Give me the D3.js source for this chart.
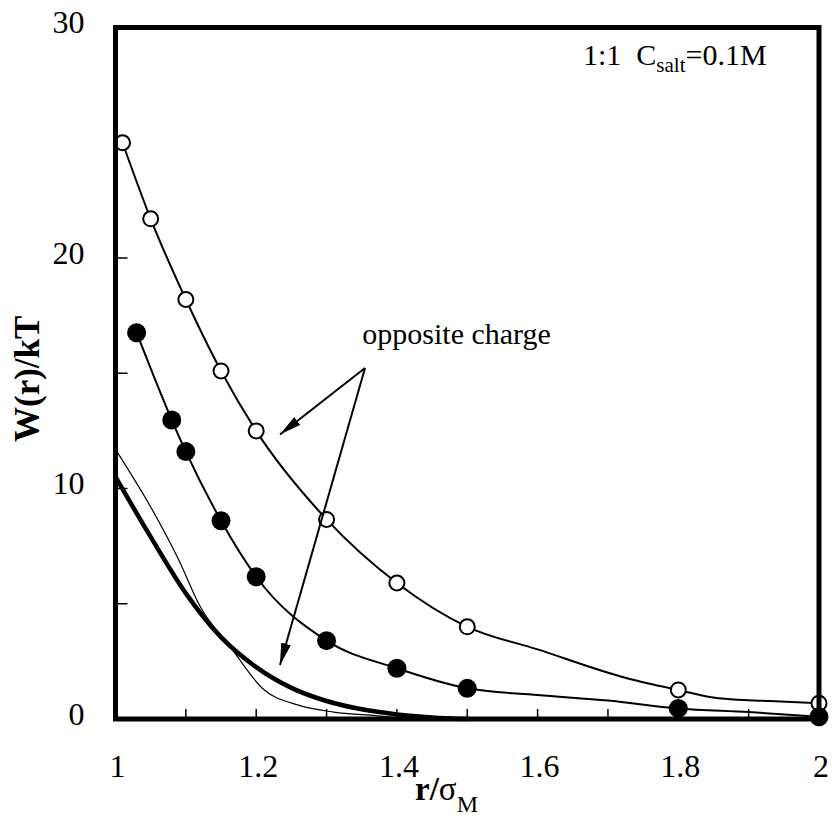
<html lang="en">
<head>
<title>W(r)/kT vs r/sigma</title>
<script src="https://d3js.org/d3.v7.min.js"></script>
<style>
  body { margin: 0; background: white; }
  text { font-family: "Liberation Serif", "Times New Roman", serif; fill: black; }
</style>
</head>
<body>
<script>

// open circles (upper series)
var openPts = [[1.01,25.0],[1.05,21.7],[1.1,18.2],[1.15,15.1],[1.2,12.5],[1.3,8.66],[1.4,5.9],[1.5,4.0],[1.8,1.26],[2.0,0.68]];
var openLine = [[1.01,25.0],[1.05,21.7],[1.1,18.2],[1.15,15.1],[1.2,12.5],[1.3,8.66],[1.4,5.9],[1.5,4.0],[1.6,3.02],[1.727,1.77],[1.8,1.26],[1.857,0.9],[1.93,0.78],[2.0,0.68]];

// filled circles
var fillPts = [[1.03,16.76],[1.08,12.97],[1.1,11.6],[1.15,8.6],[1.2,6.17],[1.3,3.4],[1.4,2.2],[1.5,1.33],[1.8,0.46],[2.0,0.1]];
var fillLine = [[1.03,16.76],[1.08,12.97],[1.1,11.6],[1.15,8.6],[1.2,6.17],[1.3,3.4],[1.4,2.2],[1.5,1.33],[1.6,1.04],[1.7,0.8],[1.8,0.46],[1.9,0.3],[2.0,0.1]];

// thick and thin curves without symbols
var thickLine = [[1.0,10.5],[1.05,7.9],[1.1,5.45],[1.15,3.55],[1.2,2.25],[1.25,1.35],[1.3,0.78],[1.35,0.42],[1.4,0.2],[1.45,0.07],[1.5,0.0]];
var thinLine = [[1.0,11.7],[1.05,9.2],[1.09,6.9],[1.12,4.9],[1.165,3.05],[1.21,1.3],[1.26,0.6],[1.31,0.3],[1.37,0.15],[1.42,0.03],[1.45,0.0]];

var xTicks = [1, 1.2, 1.4, 1.6, 1.8, 2];
var xMinor = [1.1, 1.2, 1.3, 1.4, 1.5, 1.6, 1.7, 1.8, 1.9];
var yTicks = [0, 10, 20, 30];
var yMinor = [5, 10, 15, 20, 25];

// arrows: [from, to] in data units
var arrows = [[[1.3547,15.23],[1.2338,12.34]], [[1.3547,15.23],[1.2338,2.34]]];

var w = 832, h = 819;
var margin = {top: 27.5, right: 13, bottom: 100, left: 115.5};
var innerW = w - margin.left - margin.right;
var innerH = h - margin.top - margin.bottom;

var x = d3.scaleLinear().domain([1, 2]).range([0, innerW]);
var y = d3.scaleLinear().domain([0, 30]).range([innerH, 0]);

var svg = d3.select("body").append("svg")
    .attr("width", w)
    .attr("height", h);

svg.append("defs").append("marker")
    .attr("id", "head")
    .attr("viewBox", "0 0 22 10")
    .attr("refX", 22)
    .attr("refY", 5)
    .attr("markerWidth", 22)
    .attr("markerHeight", 10)
    .attr("markerUnits", "userSpaceOnUse")
    .attr("orient", "auto")
  .append("path")
    .attr("d", "M0,0 L22,5 L0,10 Z")
    .attr("fill", "black");

var g = svg.append("g")
    .attr("transform", `translate(${margin.left},${margin.top})`);

// ticks inside the frame
g.selectAll(".xt").data(xMinor).enter().append("line")
    .attr("x1", d => x(d)).attr("x2", d => x(d))
    .attr("y1", innerH).attr("y2", innerH - 10)
    .attr("stroke", "black").attr("stroke-width", 1.5);

g.selectAll(".yt").data(yMinor).enter().append("line")
    .attr("x1", 0).attr("x2", 12)
    .attr("y1", d => y(d)).attr("y2", d => y(d))
    .attr("stroke", "black").attr("stroke-width", 1.5);

// tick labels
g.selectAll(".xl").data(xTicks).enter().append("text")
    .attr("x", d => x(d) + 2)
    .attr("y", innerH + 58)
    .attr("text-anchor", "middle")
    .attr("font-size", 32)
    .text(d => d);

g.selectAll(".yl").data(yTicks).enter().append("text")
    .attr("x", -31)
    .attr("y", d => y(d) + 5.5)
    .attr("text-anchor", "end")
    .attr("font-size", 32)
    .text(d => d);

var line = d3.line()
    .x(d => x(d[0]))
    .y(d => y(d[1]))
    .curve(d3.curveMonotoneX);

g.append("path").datum(thinLine)
    .attr("d", line).attr("fill", "none")
    .attr("stroke", "black").attr("stroke-width", 1.2);

g.append("path").datum(thickLine)
    .attr("d", line).attr("fill", "none")
    .attr("stroke", "black").attr("stroke-width", 4.5);

g.append("path").datum(openLine)
    .attr("d", line).attr("fill", "none")
    .attr("stroke", "black").attr("stroke-width", 2);

g.append("path").datum(fillLine)
    .attr("d", line).attr("fill", "none")
    .attr("stroke", "black").attr("stroke-width", 2);

g.selectAll(".op").data(openPts).enter().append("circle")
    .attr("cx", d => x(d[0])).attr("cy", d => y(d[1]))
    .attr("r", 7.5)
    .attr("fill", "white").attr("stroke", "black").attr("stroke-width", 2);

g.selectAll(".fp").data(fillPts).enter().append("circle")
    .attr("cx", d => x(d[0])).attr("cy", d => y(d[1]))
    .attr("r", 9.5)
    .attr("fill", "black");

// frame
g.append("rect")
    .attr("x", 0).attr("y", 0)
    .attr("width", innerW).attr("height", innerH)
    .attr("fill", "none").attr("stroke", "black").attr("stroke-width", 5);

// arrows
g.selectAll(".ar").data(arrows).enter().append("line")
    .attr("x1", d => x(d[0][0])).attr("y1", d => y(d[0][1]))
    .attr("x2", d => x(d[1][0])).attr("y2", d => y(d[1][1]))
    .attr("stroke", "black").attr("stroke-width", 2)
    .attr("marker-end", "url(#head)");

g.append("text")
    .attr("x", x(1.3508)).attr("y", y(16.27))
    .attr("font-size", 30)
    .text("opposite charge");

var note = g.append("text")
    .attr("x", x(1.6645)).attr("y", y(28.37))
    .attr("font-size", 30)
    .attr("xml:space", "preserve");
note.append("tspan").text("1:1  C");
note.append("tspan").attr("font-size", 21).attr("dy", 7).text("salt");
note.append("tspan").attr("dy", -7).text("=0.1M");

// axis titles
svg.append("text")
    .attr("transform", "translate(39,442) rotate(-90)")
    .attr("font-size", 35)
    .attr("font-weight", "bold")
    .text("W(r)/kT");

var xt = svg.append("text")
    .attr("x", 415).attr("y", 800)
    .attr("font-size", 33);
xt.append("tspan").attr("font-weight", "bold").text("r/");
xt.append("tspan").text("σ");
xt.append("tspan").attr("font-size", 24).attr("dy", 12).text("M");

</script>
</body>
</html>
